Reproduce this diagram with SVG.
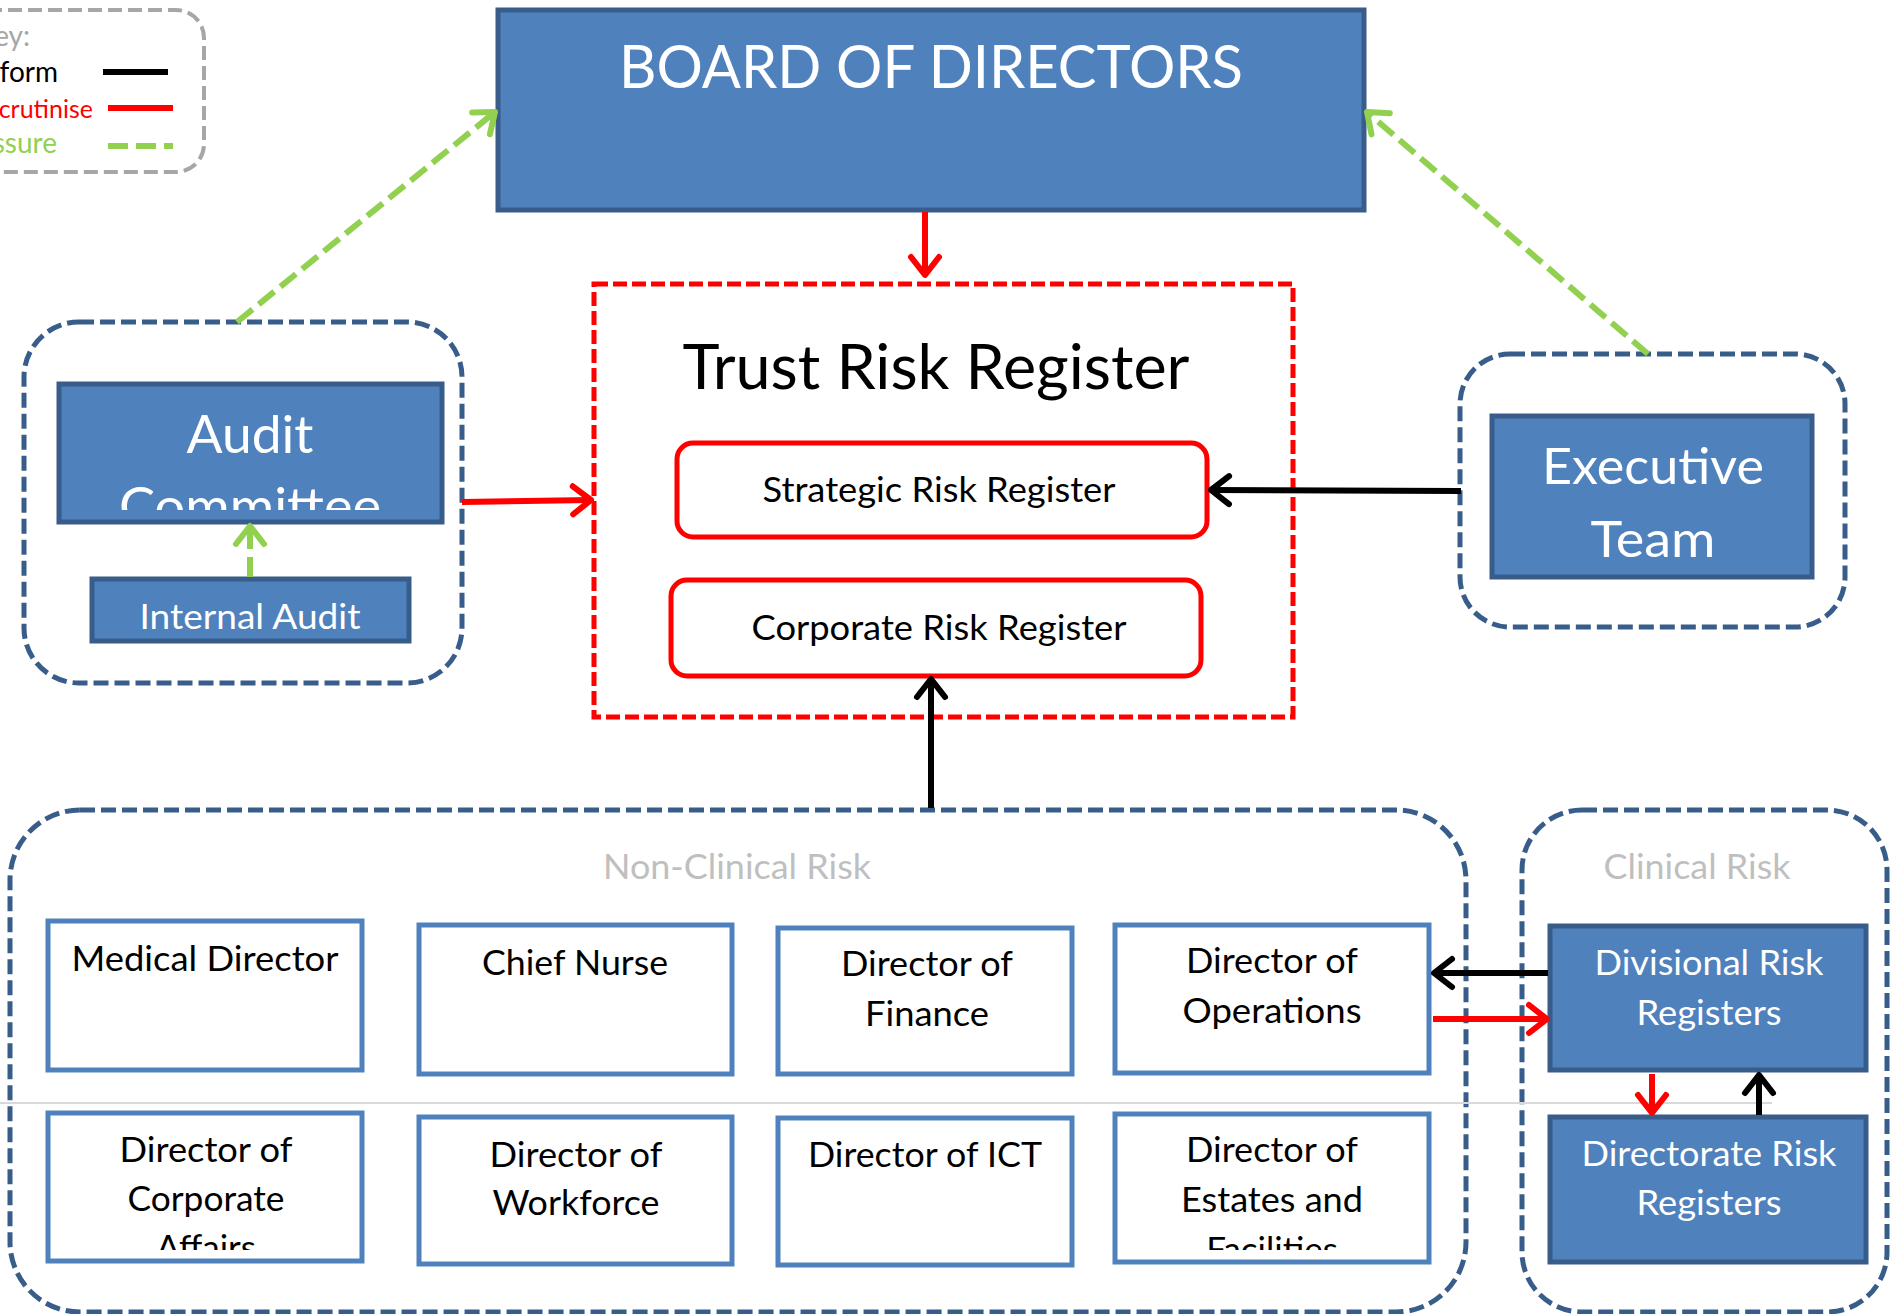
<svg xmlns="http://www.w3.org/2000/svg" width="1892" height="1314" viewBox="0 0 1892 1314">
  <style>
    text { font-family: Lato, "Noto Sans", "Liberation Sans", sans-serif; }
    .solid { fill: #4F81BD; stroke: #385D8A; stroke-width: 5; }
    .plain { fill: #FFFFFF; stroke: #4F81BD; stroke-width: 5; }
    .reg { fill: #FFFFFF; stroke: #FF0000; stroke-width: 5; }
    .grp { fill: none; stroke: #385D8A; stroke-width: 5; stroke-dasharray: 15 6; }
    .w { fill: #FFFFFF; text-anchor: middle; }
    .b { fill: #000000; text-anchor: middle; }
    .g { fill: #BFBFBF; text-anchor: middle; font-size: 35px; }
    .t35 { font-size: 35px; }
    .key { font-size: 28px; text-anchor: end; }
    .key-sm { font-size: 25px; text-anchor: end; }
    .inform { stroke: #000000; stroke-width: 6; fill: none; }
    .scrut { stroke: #FF0000; stroke-width: 6; fill: none; }
    .assure { stroke: #92D050; stroke-width: 6; fill: none; stroke-dasharray: 20 8; }
  </style>
  <defs>
    <marker id="head-black" markerUnits="userSpaceOnUse" viewBox="-24 -18 28 36" refX="0" refY="0" markerWidth="28" markerHeight="36" orient="auto">
      <path d="M -18 -14 L 0 0 L -18 14" fill="none" stroke="#000000" stroke-width="6" stroke-linecap="round" stroke-linejoin="round"/>
    </marker>
    <marker id="head-red" markerUnits="userSpaceOnUse" viewBox="-24 -18 28 36" refX="0" refY="0" markerWidth="28" markerHeight="36" orient="auto">
      <path d="M -18 -14 L 0 0 L -18 14" fill="none" stroke="#FF0000" stroke-width="6" stroke-linecap="round" stroke-linejoin="round"/>
    </marker>
    <marker id="head-green" markerUnits="userSpaceOnUse" viewBox="-24 -18 28 36" refX="0" refY="0" markerWidth="28" markerHeight="36" orient="auto">
      <path d="M -18 -14 L 0 0 L -18 14" fill="none" stroke="#92D050" stroke-width="6" stroke-linecap="round" stroke-linejoin="round"/>
    </marker>
    <clipPath id="clip-audit"><rect x="59" y="384" width="383" height="126"/></clipPath>
    <clipPath id="clip-corp"><rect x="46" y="1111" width="318" height="139"/></clipPath>
    <clipPath id="clip-estates"><rect x="1113" y="1112" width="318" height="138"/></clipPath>
  </defs>

  <rect width="1892" height="1314" fill="#FFFFFF"/>

  <!-- legend -->
  <g id="key">
    <rect x="-60" y="10" width="264" height="162" rx="28" fill="none" stroke="#A6A6A6" stroke-width="4" stroke-dasharray="14 6"/>
    <text class="key" x="30" y="46" fill="#A6A6A6">Key:</text>
    <text class="key" x="58" y="82" fill="#000000">Inform</text>
    <text class="key-sm" x="93" y="118" fill="#FF0000">Scrutinise</text>
    <text class="key" x="57" y="153" fill="#92D050">Assure</text>
    <line x1="103" y1="72" x2="168" y2="72" class="inform"/>
    <line x1="108" y1="108" x2="173" y2="108" class="scrut"/>
    <line x1="108" y1="146" x2="173" y2="146" class="assure" stroke-dasharray="16 6"/>
  </g>

  <!-- containers -->
  <rect id="audit-group" x="24" y="322" width="438" height="361" rx="55" class="grp"/>
  <rect id="exec-group" x="1460" y="354" width="385" height="273" rx="50" class="grp"/>
  <rect id="non-clinical-group" x="10" y="810" width="1456" height="502" rx="70" class="grp"/>
  <rect id="clinical-group" x="1522" y="810" width="365" height="502" rx="60" class="grp"/>
  <line x1="0" y1="1103" x2="1772" y2="1103" stroke="#D9D9D9" stroke-width="2"/>
  <text class="g" x="737" y="879" textLength="268" lengthAdjust="spacingAndGlyphs">Non-Clinical Risk</text>
  <text class="g" x="1697" y="879" textLength="187" lengthAdjust="spacingAndGlyphs">Clinical Risk</text>

  <!-- board -->
  <g id="board">
    <rect x="498" y="10" width="866" height="200" class="solid"/>
    <text class="w" x="931" y="88" font-size="60" textLength="624" lengthAdjust="spacingAndGlyphs">BOARD OF DIRECTORS</text>
  </g>

  <!-- trust risk register -->
  <g id="trust-register">
    <rect x="594" y="284" width="699" height="433" fill="none" stroke="#FF0000" stroke-width="5" stroke-dasharray="14 5"/>
    <text class="b" x="936" y="389" font-size="61" textLength="507" lengthAdjust="spacingAndGlyphs">Trust Risk Register</text>
  </g>
  <g id="strategic-register">
    <rect x="677" y="443" width="530" height="94" rx="16" class="reg"/>
    <text class="b t35" x="939" y="502" textLength="353" lengthAdjust="spacingAndGlyphs">Strategic Risk Register</text>
  </g>
  <g id="corporate-register">
    <rect x="671" y="580" width="530" height="96" rx="16" class="reg"/>
    <text class="b t35" x="939" y="640" textLength="375" lengthAdjust="spacingAndGlyphs">Corporate Risk Register</text>
  </g>

  <!-- audit -->
  <g id="audit-committee">
    <rect x="59" y="384" width="383" height="138" class="solid"/>
    <g clip-path="url(#clip-audit)">
      <text class="w" x="250" y="453" font-size="53" textLength="127" lengthAdjust="spacingAndGlyphs">Audit</text>
      <text class="w" x="250" y="525" font-size="53" textLength="262" lengthAdjust="spacingAndGlyphs">Committee</text>
    </g>
  </g>
  <g id="internal-audit">
    <rect x="92" y="579" width="317" height="62" class="solid"/>
    <text class="w t35" x="250" y="629" textLength="221" lengthAdjust="spacingAndGlyphs">Internal Audit</text>
  </g>

  <!-- executive -->
  <g id="executive-team">
    <rect x="1492" y="416" width="320" height="161" class="solid"/>
    <text class="w" x="1653" y="484" font-size="51" textLength="222" lengthAdjust="spacingAndGlyphs">Executive</text>
    <text class="w" x="1653" y="557" font-size="51" textLength="125" lengthAdjust="spacingAndGlyphs">Team</text>
  </g>

  <!-- non-clinical directors -->
  <g id="medical-director">
    <rect x="48" y="921" width="314" height="149" class="plain"/>
    <text class="b t35" x="205" y="971" textLength="267" lengthAdjust="spacingAndGlyphs">Medical Director</text>
  </g>
  <g id="chief-nurse">
    <rect x="419" y="925" width="313" height="149" class="plain"/>
    <text class="b t35" x="575" y="975" textLength="186" lengthAdjust="spacingAndGlyphs">Chief Nurse</text>
  </g>
  <g id="director-finance">
    <rect x="778" y="928" width="294" height="146" class="plain"/>
    <text class="b t35" x="927" y="976" textLength="172" lengthAdjust="spacingAndGlyphs">Director of</text>
    <text class="b t35" x="927" y="1026" textLength="124" lengthAdjust="spacingAndGlyphs">Finance</text>
  </g>
  <g id="director-operations">
    <rect x="1115" y="925" width="314" height="148" class="plain"/>
    <text class="b t35" x="1272" y="973" textLength="172" lengthAdjust="spacingAndGlyphs">Director of</text>
    <text class="b t35" x="1272" y="1023" textLength="179" lengthAdjust="spacingAndGlyphs">Operations</text>
  </g>
  <g id="director-corporate-affairs">
    <rect x="48" y="1113" width="314" height="148" class="plain"/>
    <g clip-path="url(#clip-corp)">
      <text class="b t35" x="206" y="1162" textLength="173" lengthAdjust="spacingAndGlyphs">Director of</text>
      <text class="b t35" x="206" y="1211" textLength="157" lengthAdjust="spacingAndGlyphs">Corporate</text>
      <text class="b t35" x="206" y="1260">Affairs</text>
    </g>
  </g>
  <g id="director-workforce">
    <rect x="419" y="1117" width="313" height="147" class="plain"/>
    <text class="b t35" x="576" y="1167" textLength="173" lengthAdjust="spacingAndGlyphs">Director of</text>
    <text class="b t35" x="576" y="1215" textLength="167" lengthAdjust="spacingAndGlyphs">Workforce</text>
  </g>
  <g id="director-ict">
    <rect x="778" y="1118" width="294" height="147" class="plain"/>
    <text class="b t35" x="925" y="1167" textLength="234" lengthAdjust="spacingAndGlyphs">Director of ICT</text>
  </g>
  <g id="director-estates">
    <rect x="1115" y="1114" width="314" height="148" class="plain"/>
    <g clip-path="url(#clip-estates)">
      <text class="b t35" x="1272" y="1162" textLength="172" lengthAdjust="spacingAndGlyphs">Director of</text>
      <text class="b t35" x="1272" y="1212" textLength="182" lengthAdjust="spacingAndGlyphs">Estates and</text>
      <text class="b t35" x="1272" y="1262">Facilities</text>
    </g>
  </g>

  <!-- clinical registers -->
  <g id="divisional-registers">
    <rect x="1550" y="926" width="316" height="144" class="solid"/>
    <text class="w t35" x="1709" y="975" textLength="229" lengthAdjust="spacingAndGlyphs">Divisional Risk</text>
    <text class="w t35" x="1709" y="1025" textLength="145" lengthAdjust="spacingAndGlyphs">Registers</text>
  </g>
  <g id="directorate-registers">
    <rect x="1550" y="1117" width="316" height="145" class="solid"/>
    <text class="w t35" x="1709" y="1166" textLength="255" lengthAdjust="spacingAndGlyphs">Directorate Risk</text>
    <text class="w t35" x="1709" y="1215" textLength="145" lengthAdjust="spacingAndGlyphs">Registers</text>
  </g>

  <!-- connectors -->
  <g id="connectors">
    <line x1="925" y1="212" x2="925" y2="275" class="scrut" marker-end="url(#head-red)"/>
    <line x1="462" y1="502" x2="591" y2="500" class="scrut" marker-end="url(#head-red)"/>
    <line x1="1461" y1="491" x2="1211" y2="490" class="inform" marker-end="url(#head-black)"/>
    <line x1="931" y1="808" x2="931" y2="679" class="inform" marker-end="url(#head-black)"/>
    <line x1="237" y1="322" x2="495" y2="112" class="assure" marker-end="url(#head-green)"/>
    <line x1="1648" y1="354" x2="1367" y2="112" class="assure" marker-end="url(#head-green)"/>
    <line x1="250" y1="577" x2="250" y2="526" class="assure" marker-end="url(#head-green)"/>
    <line x1="1548" y1="973" x2="1434" y2="973" class="inform" marker-end="url(#head-black)"/>
    <line x1="1433" y1="1019" x2="1547" y2="1019" class="scrut" marker-end="url(#head-red)"/>
    <line x1="1652" y1="1074" x2="1652" y2="1113" class="scrut" marker-end="url(#head-red)"/>
    <line x1="1759" y1="1115" x2="1759" y2="1075" class="inform" marker-end="url(#head-black)"/>
  </g>
</svg>
